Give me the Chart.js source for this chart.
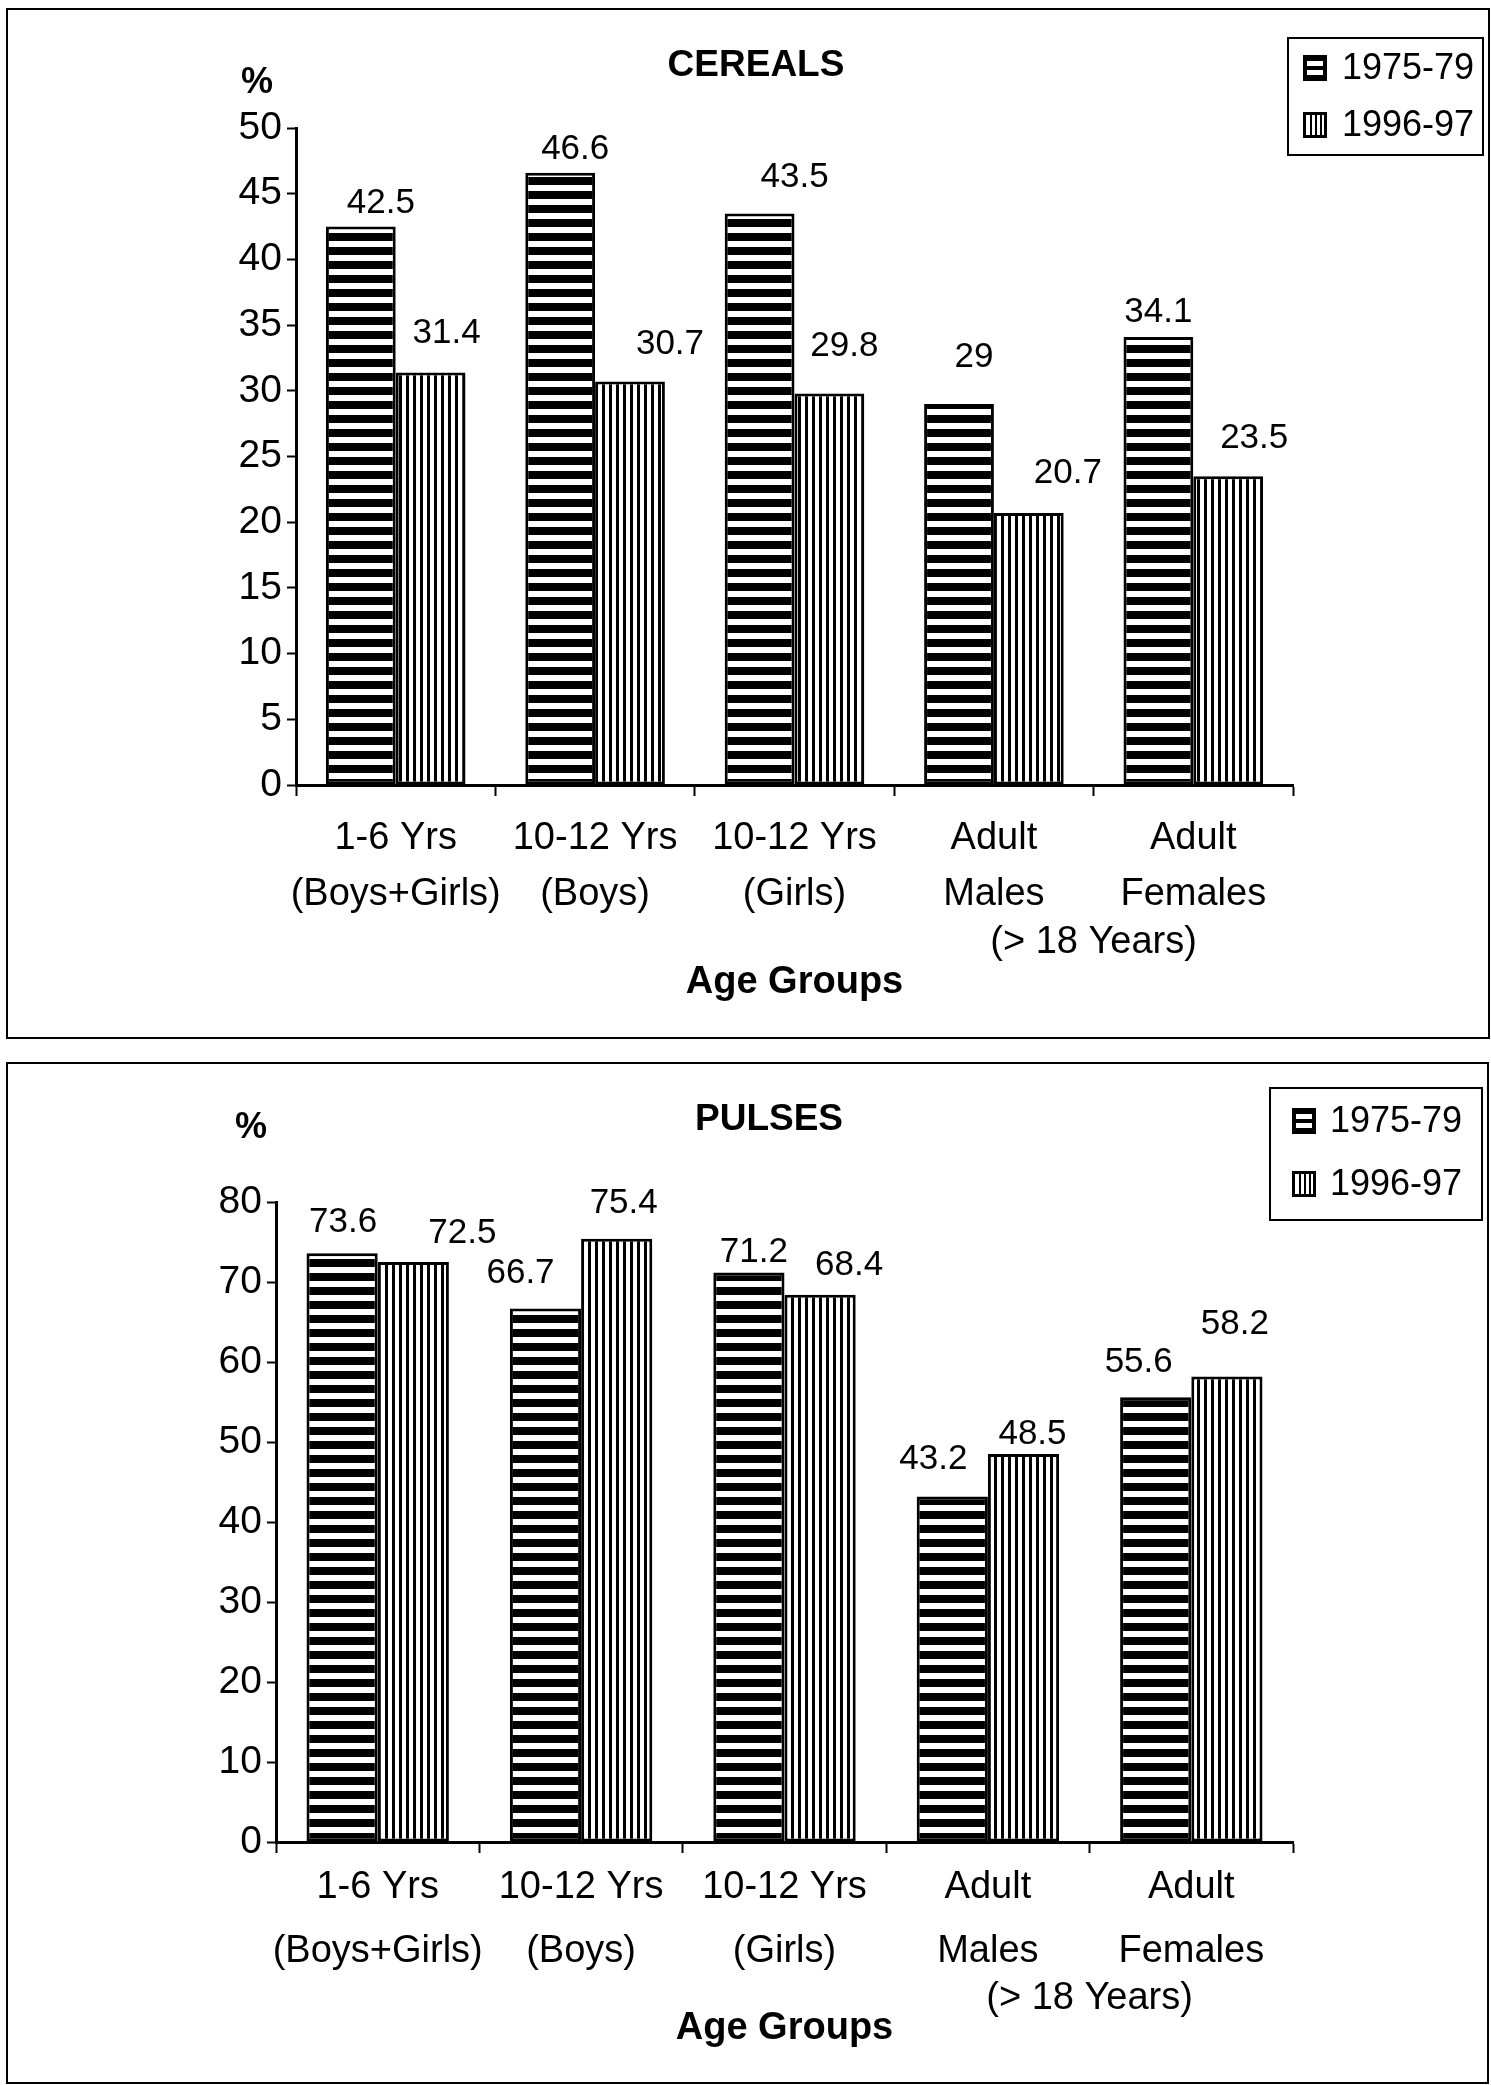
<!DOCTYPE html>
<html>
<head>
<meta charset="utf-8">
<title>Cereals and Pulses by Age Group</title>
<script src="https://cdn.jsdelivr.net/npm/chart.js@4.4.1/dist/chart.umd.min.js"></script>
<style>
  html, body { margin: 0; padding: 0; background: #fff; }
  #page { position: relative; width: 1491px; height: 2085px; overflow: hidden; background: #fff; }
  .frame { position: absolute; border: 2px solid #000; box-sizing: border-box; }
  canvas { position: absolute; }
</style>
</head>
<body>
<div id="page">
  <div class="frame" style="left:6px; top:8px; width:1484px; height:1031px;"></div>
  <div class="frame" style="left:6px; top:1062px; width:1483px; height:1022px;"></div>
  <canvas id="cereals" width="1482" height="1029" style="left:7px; top:9px;"></canvas>
  <canvas id="pulses" width="1482" height="1020" style="left:7px; top:1063px;"></canvas>
</div>
<script>
// ---- data ----
const categories = [
  ["1-6 Yrs", "(Boys+Girls)"],
  ["10-12 Yrs", "(Boys)"],
  ["10-12 Yrs", "(Girls)"],
  ["Adult", "Males"],
  ["Adult", "Females"]
];
const adultNote = "(> 18 Years)";
const seriesNames = ["1975-79", "1996-97"];

const cereals1975 = [42.5, 46.6, 43.5, 29, 34.1];
const cereals1996 = [31.4, 30.7, 29.8, 20.7, 23.5];

const pulses1975 = [73.6, 66.7, 71.2, 43.2, 55.6];
const pulses1996 = [72.5, 75.4, 68.4, 48.5, 58.2];

const cerealTicks = { max: 50, step: 5 };
const pulseTicks = { max: 80, step: 10 };

// ---- value-label placement relative to each bar top (px) ----
const cerealNudges = [
  [[20, -23], [15, -23], [35, -36], [15, -47], [0, -25]],
  [[16, -39], [40, -37], [15, -47], [39, -40], [26, -38]]
];
const pulseNudges = [
  [[1, -31], [-25, -35], [5, -20], [-19, -37], [-17, -35]],
  [[49, -29], [7, -35], [29, -29], [9, -20], [8, -52]]
];

const FAMILY = "'Liberation Sans', Arial, Helvetica, sans-serif";

// ---- hatch fills ----
function makePattern(kind) {
  const c = document.createElement('canvas');
  const g = c.getContext('2d');
  if (kind === 'h') {
    c.width = 8; c.height = 14;
    g.fillStyle = '#000'; g.fillRect(0, 0, 8, 14);
    g.fillStyle = '#fff'; g.fillRect(0, 8, 8, 6);
  } else {
    c.width = 7; c.height = 8;
    g.fillStyle = '#fff'; g.fillRect(0, 0, 7, 8);
    g.fillStyle = '#000'; g.fillRect(0, 0, 3, 8);
  }
  return g.createPattern(c, 'repeat');
}
const hPattern = makePattern('h');
const vPattern = makePattern('v');

function drawSwatch(ctx, kind, x, y) {
  const w = 24, h = 26;
  ctx.save();
  if (kind === 'h') {
    ctx.fillStyle = '#000';
    ctx.fillRect(x, y, w, h);
    ctx.fillStyle = '#fff';
    ctx.fillRect(x + 4, y + 6, w - 8, 5);
    ctx.fillRect(x + 4, y + 15, w - 8, 5);
  } else {
    ctx.fillStyle = '#fff';
    ctx.fillRect(x, y, w, h);
    ctx.fillStyle = '#000';
    [7, 12, 17].forEach(function (dx) { ctx.fillRect(x + dx, y, 2, h); });
    ctx.lineWidth = 3;
    ctx.strokeStyle = '#000';
    ctx.strokeRect(x + 1.5, y + 1.5, w - 3, h - 3);
  }
  ctx.restore();
}

// Title, unit mark, value labels, shared category note and legend
const decorPlugin = {
  id: 'decor',
  afterDatasetsDraw(chart, args, opts) {
    const ctx = chart.ctx;
    const area = chart.chartArea;
    ctx.save();
    ctx.fillStyle = '#000';
    ctx.textBaseline = 'middle';

    // chart heading
    ctx.textAlign = 'center';
    ctx.font = "bold 37px " + FAMILY;
    ctx.fillText(opts.heading, opts.headingPos[0], opts.headingPos[1]);
    // unit
    ctx.font = "bold 36px " + FAMILY;
    ctx.fillText('%', opts.unitPos[0], opts.unitPos[1]);

    // value labels
    ctx.font = "35px " + FAMILY;
    chart.data.datasets.forEach(function (ds, di) {
      const meta = chart.getDatasetMeta(di);
      meta.data.forEach(function (bar, i) {
        const n = opts.nudges[di][i];
        ctx.fillText(String(ds.data[i]), bar.x + n[0], bar.y + n[1]);
      });
    });

    // note shared by the two adult groups
    const xs = chart.scales.x;
    const midX = (xs.getPixelForValue(3) + xs.getPixelForValue(4)) / 2;
    ctx.font = "38px " + FAMILY;
    ctx.fillText(adultNote, midX, area.bottom + opts.noteOffset);

    // legend
    const b = opts.legendBox;
    ctx.lineWidth = 2;
    ctx.strokeStyle = '#000';
    ctx.strokeRect(b.x, b.y, b.w, b.h);
    ctx.textAlign = 'left';
    ctx.font = "36px " + FAMILY;
    chart.data.datasets.forEach(function (ds, di) {
      const rowY = b.rows[di];
      drawSwatch(ctx, di === 0 ? 'h' : 'v', b.swatchX, rowY - 13);
      ctx.fillText(ds.label, b.textX, rowY + 1);
    });
    ctx.restore();
  }
};

function buildChart(id, a, b, cfg) {
  return new Chart(document.getElementById(id), {
    type: 'bar',
    data: {
      labels: categories,
      datasets: [
        { label: seriesNames[0], data: a, backgroundColor: hPattern, borderColor: '#000', borderWidth: 3, borderSkipped: false },
        { label: seriesNames[1], data: b, backgroundColor: vPattern, borderColor: '#000', borderWidth: 3, borderSkipped: false }
      ]
    },
    options: {
      responsive: false,
      animation: false,
      devicePixelRatio: 1,
      layout: { padding: { top: cfg.top, right: cfg.right, bottom: 0, left: 0 } },
      datasets: { bar: { categoryPercentage: 0.7, barPercentage: 1.0 } },
      plugins: {
        legend: { display: false },
        title: { display: false },
        tooltip: { enabled: false },
        decor: cfg.decor
      },
      scales: {
        x: {
          grid: { display: true, offset: true, drawOnChartArea: false, drawTicks: true, tickLength: 11, tickWidth: 2, tickColor: '#000' },
          border: { display: true, color: '#000', width: 3 },
          ticks: {
            color: '#000', autoSkip: false, maxRotation: 0, minRotation: 0,
            padding: cfg.tickPad,
            font: { family: FAMILY, size: 38, lineHeight: cfg.lineHeight }
          },
          title: {
            display: true, text: 'Age Groups', color: '#000',
            font: { family: FAMILY, size: 38, weight: 'bold', lineHeight: 1.2 },
            padding: { top: 0, bottom: cfg.titlePad }
          },
          afterFit: function (s) { s.height = cfg.xHeight; }
        },
        y: {
          min: 0, max: cfg.ticks.max,
          ticks: { stepSize: cfg.ticks.step, color: '#000', padding: 5, font: { family: FAMILY, size: 39 } },
          grid: { display: true, drawOnChartArea: false, drawTicks: true, tickLength: 9, tickWidth: 2, tickColor: '#000' },
          border: { display: true, color: '#000', width: 3 },
          afterFit: function (s) { s.width = cfg.yWidth; }
        }
      }
    },
    plugins: [decorPlugin]
  });
}

buildChart('cereals', cereals1975, cereals1996, {
  top: 119, right: 196, yWidth: 289, xHeight: 253,
  lineHeight: 56 / 38, tickPad: 15, titlePad: 33,
  ticks: cerealTicks,
  decor: {
    heading: 'CEREALS', headingPos: [749, 57], unitPos: [250, 74],
    nudges: cerealNudges, noteOffset: 158,
    legendBox: { x: 1281, y: 29, w: 195, h: 117, rows: [59, 116], swatchX: 1296, textX: 1335 }
  }
});

buildChart('pulses', pulses1975, pulses1996, {
  top: 139, right: 196, yWidth: 269, xHeight: 241,
  lineHeight: 64 / 38, tickPad: 3, titlePad: 32,
  ticks: pulseTicks,
  decor: {
    heading: 'PULSES', headingPos: [762, 57], unitPos: [244, 65],
    nudges: pulseNudges, noteOffset: 157,
    legendBox: { x: 1263, y: 25, w: 212, h: 132, rows: [58, 121], swatchX: 1285, textX: 1323 }
  }
});
</script>
</body>
</html>
